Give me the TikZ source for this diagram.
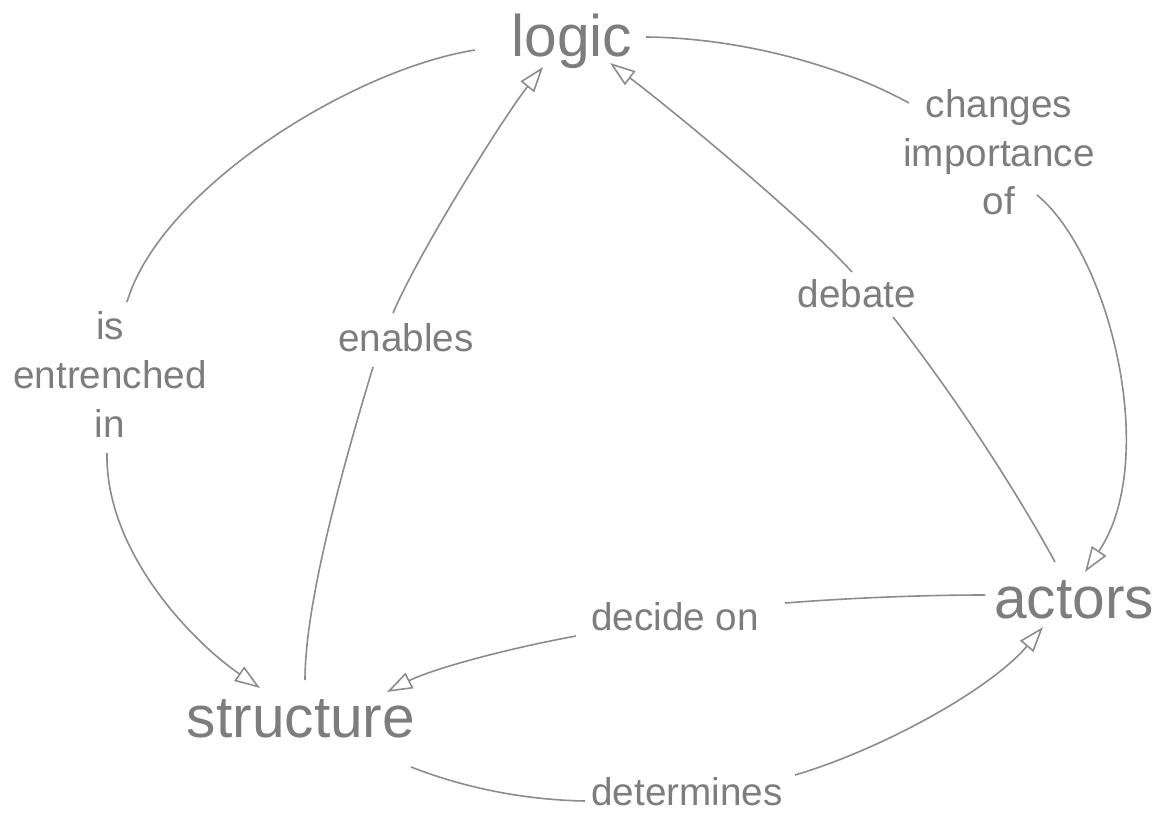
\documentclass[tikz,border=0pt]{standalone}
\usepackage{fontspec}
\setmainfont{Liberation Sans}
\usetikzlibrary{arrows.meta}
\definecolor{txtgray}{RGB}{125,125,125}
\definecolor{linegray}{RGB}{140,140,140}
\begin{document}
\begin{tikzpicture}[x=0.75pt,y=-0.75pt,
  concept/.style={text=txtgray, inner sep=0pt, font=\fontsize{44}{53}\selectfont, anchor=base},
  lbl/.style={text=txtgray, inner sep=0pt, font=\fontsize{29}{36.4}\selectfont, align=center},
  link/.style={draw=linegray, line width=1.2pt},
  arr/.style={link, -{Triangle[open,length=19pt,width=13pt]}}]
\useasboundingbox (0,0) rectangle (1162,813);
% concepts
\node[concept] (logic) at (572,57) {logic};
\node[concept] (structure) at (301,737) {structure};
\node[concept] (actors) at (1074,618) {actors};
% labels
\node[lbl, anchor=center] (ent) at (110,374.5) {is\\entrenched\\in};
\node[lbl, anchor=base] (en) at (406,351) {enables};
\node[lbl, anchor=center] (chg) at (999,152.5) {changes\\importance\\of};
\node[lbl, anchor=base] (deb) at (857,307) {debate};
\node[lbl, anchor=base] (dec) at (675,630) {decide on};
\node[lbl, anchor=base] (det) at (687,805) {determines};
% logic -> structure (is entrenched in)
\draw[link] ([shift={(-97,-7)}]logic.base) .. controls (350,70) and (160,190) .. ([shift={(17,-72.5)}]ent.center);
\draw[arr] ([shift={(-3,78.5)}]ent.center) .. controls (105,550) and (190,640) .. ([shift={(-41,-49)}]structure.base);
% structure -> logic (enables)
\draw[link] ([shift={(4,-57)}]structure.base) .. controls (305,600) and (345,460) .. ([shift={(-33,16)}]en.base);
\draw[arr] ([shift={(-13,-38)}]en.base) .. controls (420,250) and (505,115) .. ([shift={(-29,10)}]logic.base);
% actors -> logic (debate)
\draw[link] ([shift={(-19,-56)}]actors.base) .. controls (1010,480) and (950,390) .. ([shift={(36,10)}]deb.base);
\draw[arr] ([shift={(-5,-35)}]deb.base) .. controls (802,217) and (670,108) .. ([shift={(38,6)}]logic.base);
% logic -> actors (changes importance of)
\draw[link] ([shift={(74,-20)}]logic.base) .. controls (740,38) and (840,65) .. ([shift={(-90,-49.5)}]chg.center);
\draw[arr] ([shift={(38,42.5)}]chg.center) .. controls (1110,255) and (1160,460) .. ([shift={(11,-46)}]actors.base);
% actors -> structure (decide on)
\draw[link] ([shift={(-89,-23)}]actors.base) .. controls (920,595) and (850,598) .. ([shift={(110,-27)}]dec.base);
\draw[arr] ([shift={(-99,6)}]dec.base) .. controls (500,650) and (430,670) .. ([shift={(86,-45)}]structure.base);
% structure -> actors (determines)
\draw[link] ([shift={(110,30)}]structure.base) .. controls (470,790) and (530,800) .. ([shift={(-102,-4)}]det.base);
\draw[arr] ([shift={(108,-30)}]det.base) .. controls (880,750) and (990,690) .. ([shift={(-31,9)}]actors.base);
\end{tikzpicture}
\end{document}
